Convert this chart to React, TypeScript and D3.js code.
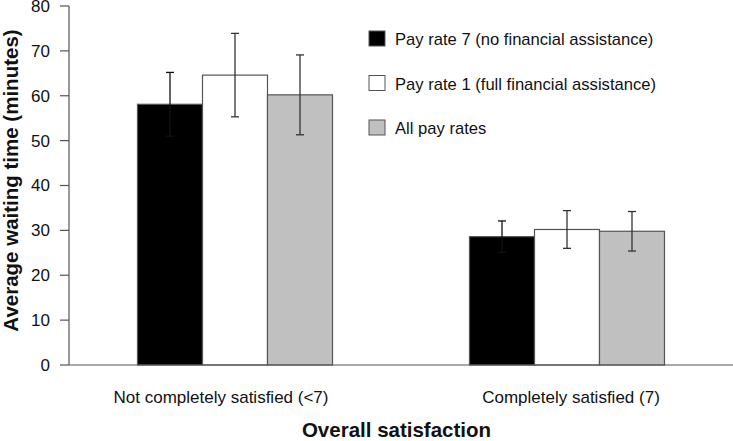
import React from "react";
import * as d3 from "d3";

const categories = ["Not completely satisfied (<7)", "Completely satisfied (7)"];
const seriesNames = [
  "Pay rate 7 (no financial assistance)",
  "Pay rate 1 (full financial assistance)",
  "All pay rates",
];
const seriesColors = ["#000000", "#ffffff", "#c0c0c0"];
const payRate7 = [58.1, 28.6];
const payRate7Err = [7.1, 3.5];
const payRate1 = [64.6, 30.2];
const payRate1Err = [9.3, 4.2];
const allRates = [60.2, 29.8];
const allRatesErr = [8.9, 4.4];
const yTicks = [0, 10, 20, 30, 40, 50, 60, 70, 80];

const W = 733;
const H = 441;
const margin = { left: 69, right: 0, top: 6, bottom: 76 };
const labelOffsets = [-14, 4];

export default function App() {
  const values = [payRate7, payRate1, allRates];
  const errs = [payRate7Err, payRate1Err, allRatesErr];
  const x = d3.scaleBand<string>().domain(categories).range([margin.left, W - margin.right]).paddingInner(0).paddingOuter(0);
  const y = d3.scaleLinear().domain([0, 80]).range([365, 6]);
  const barW = 65;
  const font = "'Liberation Sans', Arial, sans-serif";
  return (
    <svg width={W} height={H} style={{ position: "absolute", left: 0, top: 0, background: "#fff" }} fontFamily={font}>
      {/* y axis */}
      <line x1={margin.left} x2={margin.left} y1={y(80)} y2={y(0)} stroke="#555" strokeWidth={1.2} />
      {yTicks.map((t) => (
        <g key={t}>
          <line x1={60} x2={margin.left} y1={y(t)} y2={y(t)} stroke="#555" strokeWidth={1.2} />
          <text x={50} y={y(t)} dy="0.35em" textAnchor="end" fontSize={17} fill="#111">
            {t}
          </text>
        </g>
      ))}
      {/* bars */}
      {categories.map((c, ci) => {
        const cx = (x(c) as number) + x.bandwidth() / 2;
        return (
          <g key={c}>
            {values.map((vals, si) => {
              const x0 = cx - (3 * barW) / 2 + si * barW;
              return (
                <rect
                  key={si}
                  x={x0}
                  y={y(vals[ci])}
                  width={barW}
                  height={y(0) - y(vals[ci])}
                  fill={seriesColors[si]}
                  stroke="#555"
                  strokeWidth={1.2}
                />
              );
            })}
            {values.map((vals, si) => {
              const mx = cx - (3 * barW) / 2 + si * barW + barW / 2;
              const hi = y(vals[ci] + errs[si][ci]);
              const lo = y(vals[ci] - errs[si][ci]);
              return (
                <g key={"e" + si} stroke={si === 0 ? "#111" : "#333"} strokeWidth={1.3}>
                  <line x1={mx} x2={mx} y1={hi} y2={lo} />
                  <line x1={mx - 4} x2={mx + 4} y1={hi} y2={hi} />
                  <line x1={mx - 4} x2={mx + 4} y1={lo} y2={lo} />
                </g>
              );
            })}
            <text x={cx + labelOffsets[ci]} y={403} textAnchor="middle" fontSize={17} fill="#111">
              {c}
            </text>
          </g>
        );
      })}
      {/* x axis */}
      <line x1={margin.left} x2={W} y1={y(0)} y2={y(0)} stroke="#555" strokeWidth={1.2} />
      {/* legend */}
      {seriesNames.map((s, i) => (
        <g key={s} transform={`translate(369, ${31 + i * 44.5})`}>
          <rect x={0} y={0} width={16} height={15} fill={seriesColors[i]} stroke="#555" strokeWidth={1} />
          <text x={26} y={14} fontSize={16.6} fill="#111">
            {s}
          </text>
        </g>
      ))}
      {/* titles */}
      <text x={396.5} y={437} textAnchor="middle" fontSize={20.5} fontWeight="bold" fill="#111">
        Overall satisfaction
      </text>
      <text transform="translate(18, 180.5) rotate(-90)" textAnchor="middle" fontSize={20.5} fontWeight="bold" fill="#111">
        Average waiting time (minutes)
      </text>
    </svg>
  );
}
